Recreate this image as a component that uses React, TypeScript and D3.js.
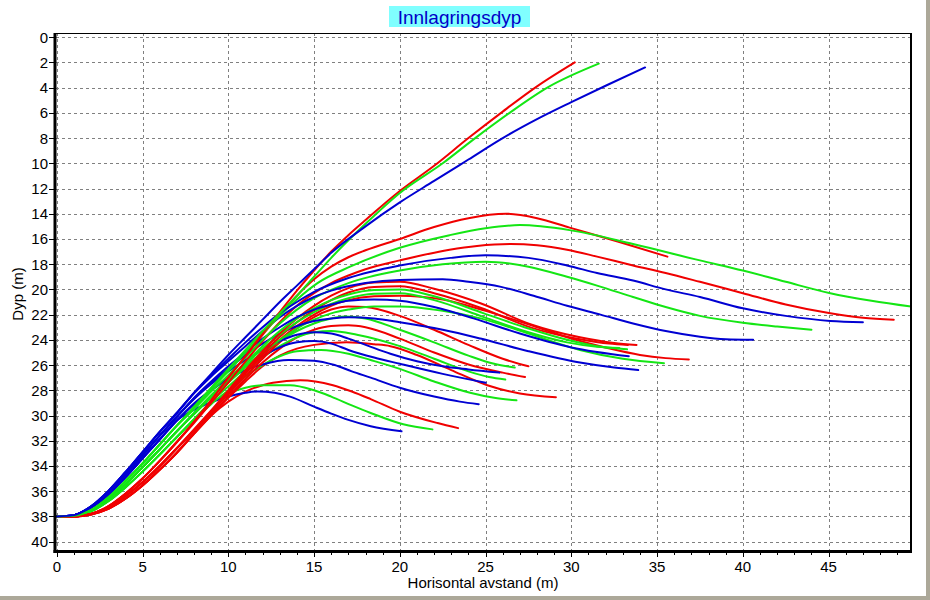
import React from "react";
import * as d3 from "d3";

// ---------- data ----------
const X_TICKS = [0, 5, 10, 15, 20, 25, 30, 35, 40, 45];
const X_MINOR = d3.range(0, 50, 1);
const Y_TICKS = [0, 2, 4, 6, 8, 10, 12, 14, 16, 18, 20, 22, 24, 26, 28, 30, 32, 34, 36, 38, 40];

type P = [number, number];

// shared rising starts (x, depth) per colour: left / middle / right variants
const blueRiseL: P[] = [[0, 38], [1, 37.9], [2, 37.2], [3, 36.0], [4, 34.5], [5, 32.9], [6, 31.3], [7, 29.8]];
const blueRiseM: P[] = [[0, 38], [1, 37.9], [2, 37.25], [3, 36.15], [4, 34.7], [5, 33.15], [6, 31.6], [7, 30.1]];
const blueRiseR: P[] = [[0, 38], [1, 37.9], [2, 37.3], [3, 36.3], [4, 34.9], [5, 33.4], [6, 31.9], [7, 30.4]];
const greenRiseL: P[] = [[0, 38], [1, 37.95], [2, 37.5], [3, 36.5], [4, 35.2], [5, 33.8], [6, 32.3], [7, 30.8]];
const greenRiseM: P[] = [[0, 38], [1, 37.95], [2, 37.55], [3, 36.65], [4, 35.45], [5, 34.1], [6, 32.7], [7, 31.25]];
const greenRiseR: P[] = [[0, 38], [1, 37.95], [2, 37.6], [3, 36.8], [4, 35.7], [5, 34.45], [6, 33.1], [7, 31.7]];
const redRiseL: P[] = [[0, 38], [1, 38], [2, 37.8], [3, 37.2], [4, 36.2], [5, 35.0], [6, 33.6], [7, 32.1]];
const redRiseM: P[] = [[0, 38], [1, 38], [2, 37.8], [3, 37.3], [4, 36.4], [5, 35.3], [6, 34.0], [7, 32.6]];
const redRiseR: P[] = [[0, 38], [1, 38], [2, 37.85], [3, 37.4], [4, 36.6], [5, 35.55], [6, 34.3], [7, 32.95]];

// blue trajectories
const blueA: P[] = [[8, 28.2], [9, 26.7], [10, 25.2], [11, 23.8], [12, 22.4], [13, 21.0], [14, 19.7], [15, 18.4], [16, 17.1], [18, 15.0], [20, 13.1], [22, 11.4], [24, 9.7], [26, 8.0], [28, 6.5], [30, 5.15], [32, 3.85], [34.3, 2.4]];
const blueB1: P[] = [[8, 28.2], [9, 26.8], [10, 25.5], [11, 24.2], [12, 23.0], [13, 21.9], [14, 21.0], [15, 20.2], [17, 19.1], [20, 18.1], [22.95, 17.5], [25, 17.3], [27.5, 17.5], [29.75, 18.1], [31.5, 18.7], [33.6, 19.3], [35.5, 20.0], [37.5, 20.6], [40, 21.5], [42.5, 22.1], [45.1, 22.5], [47, 22.6]];
const blueB2: P[] = [[8, 28.25], [9, 26.9], [10, 25.7], [11, 24.5], [12, 23.3], [13, 22.2], [14, 21.3], [15, 20.6], [16, 20.1], [18, 19.5], [20, 19.25], [22.5, 19.2], [24, 19.4], [25.9, 19.8], [27.8, 20.5], [29.75, 21.3], [31.7, 22.0], [33.6, 22.7], [35.5, 23.3], [37.5, 23.75], [39, 23.95], [40.6, 24.0]];
const blueC1: P[] = [[8, 28.6], [9, 27.3], [10, 26.1], [11, 25.0], [12, 23.9], [13, 23.0], [14, 22.2], [15, 21.6], [16, 21.2], [17, 20.9], [18.5, 20.8], [20, 20.9], [22, 21.4], [24.3, 22.3], [27, 23.5], [30, 24.6], [33.35, 25.3]];
const blueC2: P[] = [[8, 28.65], [9, 27.4], [10, 26.3], [11, 25.2], [12, 24.3], [13, 23.5], [14, 22.9], [15, 22.5], [16, 22.3], [17, 22.2], [18.5, 22.3], [20, 22.6], [22.5, 23.2], [24.7, 23.9], [27.5, 24.9], [30.5, 25.8], [32.5, 26.2], [33.9, 26.4]];
const blueD1: P[] = [[8, 28.7], [9, 27.5], [10, 26.5], [11, 25.6], [12, 24.8], [13, 24.1], [14, 23.6], [15, 23.4], [16, 23.5], [17, 23.9], [18.2, 24.5], [19.45, 25.1], [21, 25.7], [22.5, 26.1], [24, 26.35], [25.8, 26.6]];
const blueD2: P[] = [[8, 29.05], [9, 28.0], [10, 27.0], [11, 26.1], [12, 25.3], [13, 24.6], [14, 24.2], [15, 24.1], [16, 24.3], [17, 24.8], [18.5, 25.4], [20, 25.9], [22.5, 26.7], [25, 27.4]];
const blueE: P[] = [[8, 29.1], [9, 28.0], [10, 27.1], [11, 26.4], [12, 25.95], [13.5, 25.6], [15, 25.65], [16.2, 26.0], [17.2, 26.5], [18.3, 27.0], [20, 27.8], [22, 28.5], [23.5, 28.9], [24.6, 29.1]];
const blueF: P[] = [[8, 29.55], [9, 28.95], [10, 28.5], [11, 28.2], [11.7, 28.1], [12.7, 28.2], [13.6, 28.5], [15, 29.3], [16, 29.85], [17, 30.35], [18.3, 30.85], [20.1, 31.25]];

// green trajectories
const greenA: P[] = [[8, 29.3], [9, 27.8], [10, 26.3], [11, 24.8], [12, 23.3], [13, 21.9], [14, 20.5], [15, 19.0], [16, 17.5], [18, 14.8], [20, 12.35], [22.5, 10.0], [24.3, 8.1], [26.4, 6.0], [28.6, 4.0], [31.6, 2.1]];
const greenB1: P[] = [[8, 29.4], [9, 27.9], [10, 26.5], [11, 25.0], [12, 23.5], [13, 22.1], [14, 20.8], [15.2, 19.5], [17.1, 18.2], [20, 16.7], [22.9, 15.7], [25, 15.15], [27, 14.9], [29.9, 15.3], [33.6, 16.4], [37.5, 17.7], [40, 18.5], [42.5, 19.4], [45.1, 20.3], [47.5, 20.9], [50.3, 21.45]];
const greenB2: P[] = [[8, 29.5], [9, 28.1], [10, 26.8], [11, 25.4], [12, 24.0], [13, 22.7], [14, 21.6], [15, 20.7], [17, 19.5], [20, 18.5], [22.5, 18.0], [25, 17.8], [27.5, 18.2], [29.75, 19.0], [31.5, 19.7], [33.6, 20.6], [35.5, 21.4], [37.5, 22.1], [40, 22.65], [42, 22.95], [44, 23.2]];
const greenC1: P[] = [[8, 29.85], [9, 28.5], [10, 27.3], [11, 26.1], [12, 25.0], [13, 24.0], [14, 23.1], [15, 22.4], [16, 21.9], [17, 21.6], [18.5, 21.35], [20, 21.35], [22.5, 21.7], [24.7, 22.3], [27.5, 23.5], [30.5, 24.8], [33, 25.5], [35.4, 25.85]];
const greenC2: P[] = [[8, 29.8], [9, 28.4], [10, 27.1], [11, 25.8], [12, 24.5], [13, 23.3], [14, 22.3], [15, 21.5], [16, 20.85], [17, 20.4], [18.5, 20.05], [20, 20.0], [22, 20.55], [24.9, 21.9], [27.5, 23.1], [29.75, 24.0], [31.5, 24.5], [33.25, 24.75]];
const greenC3: P[] = [[8, 29.85], [9, 28.5], [10, 27.2], [11, 25.95], [12, 24.7], [13, 23.6], [14, 22.6], [15, 21.8], [16, 21.15], [17, 20.7], [18.5, 20.35], [20, 20.3], [22, 20.85], [24.9, 22.2], [27.5, 23.4], [29.75, 24.2], [31.5, 24.55], [32.8, 24.65]];
const greenD1: P[] = [[8, 29.9], [9, 28.6], [10, 27.4], [11, 26.2], [12, 25.1], [13, 24.1], [14, 23.3], [15, 22.7], [16, 22.3], [16.8, 22.15], [18, 22.3], [20, 23.2], [22, 24.2], [24, 25.25], [25.5, 25.9], [26.7, 26.2]];
const greenD2: P[] = [[8, 30.3], [9, 28.9], [10, 27.7], [11, 26.5], [12, 25.4], [13, 24.5], [14, 23.8], [15, 23.4], [16, 23.3], [17.5, 23.6], [20, 24.5], [22, 25.5], [24, 26.5], [25.2, 26.95], [26.15, 27.15]];
const greenE: P[] = [[8, 30.35], [9, 29.1], [10, 28.0], [11, 26.9], [12, 26.0], [13, 25.3], [14, 24.9], [15.4, 24.8], [17, 25.1], [18.3, 25.6], [20, 26.3], [22, 27.3], [24.1, 28.2], [25.5, 28.6], [26.8, 28.8]];
const greenF: P[] = [[8, 30.3], [9, 29.0], [10.1, 28.2], [11, 27.8], [12.05, 27.6], [13.6, 27.6], [15, 28.0], [16, 28.5], [17.2, 29.2], [18.3, 29.8], [20.2, 30.7], [21.9, 31.1]];

// red trajectories
const redA: P[] = [[8, 30.5], [9, 28.8], [10, 27.0], [11, 25.3], [12, 23.5], [13, 21.8], [14, 20.1], [15, 18.5], [16, 17.0], [17, 15.7], [18, 14.5], [20, 12.2], [22, 10.2], [24, 8.0], [26, 5.9], [28, 3.9], [30.2, 2.0]];
const redB1: P[] = [[8, 30.5], [9, 28.8], [10, 27.0], [11, 25.3], [12, 23.6], [13, 22.0], [14, 20.5], [15, 19.2], [16, 18.2], [17, 17.45], [18, 16.9], [20, 16.0], [22, 15.05], [24, 14.35], [26.2, 14.0], [28, 14.35], [29.9, 15.1], [32.7, 16.2], [35.6, 17.4]];
const redB2: P[] = [[8, 30.6], [9, 29.0], [10, 27.4], [11, 25.7], [12, 24.1], [13, 22.6], [14, 21.3], [15, 20.3], [16, 19.5], [17, 18.9], [18, 18.4], [20, 17.7], [22.9, 16.85], [24.5, 16.55], [26.45, 16.4], [28, 16.5], [29.75, 16.85], [31.5, 17.4], [33.6, 18.1], [35.5, 18.7], [37.5, 19.4], [40, 20.3], [42.5, 21.2], [45.1, 21.9], [47, 22.25], [48.8, 22.4]];
const redC1: P[] = [[8, 31.1], [9, 29.6], [10, 28.0], [11, 26.4], [12, 24.9], [13, 23.5], [14, 22.3], [15, 21.3], [16, 20.5], [17, 19.9], [18.5, 19.45], [20, 19.4], [22, 19.95], [24.7, 21.1], [27.7, 22.8], [30.5, 23.8], [32.5, 24.25], [33.8, 24.4]];
const redC2: P[] = [[8, 31.15], [9, 29.65], [10, 28.1], [11, 26.55], [12, 25.1], [13, 23.75], [14, 22.6], [15, 21.65], [16, 20.85], [17, 20.25], [18.5, 19.8], [20, 19.75], [22, 20.3], [24.7, 21.45], [27.7, 23.05], [30.5, 23.95], [32.2, 24.3], [33.3, 24.4]];
const redC3: P[] = [[8, 31.2], [9, 29.7], [10, 28.2], [11, 26.7], [12, 25.3], [13, 24.0], [14, 22.9], [15, 22.0], [16, 21.3], [17, 20.85], [18.5, 20.55], [20, 20.5], [22.5, 20.8], [25, 21.7], [27.8, 22.9], [30, 23.9], [32.1, 24.65], [34, 25.2], [35.5, 25.45], [36.85, 25.55]];
const redD1: P[] = [[8, 31.2], [9, 29.75], [10, 28.3], [11, 26.9], [12, 25.5], [13, 24.2], [14, 23.1], [15, 22.2], [16, 21.6], [17, 21.35], [18, 21.4], [20, 22.1], [22, 23.2], [24, 24.4], [26, 25.5], [27.5, 26.1]];
const redD2: P[] = [[8, 31.4], [9, 29.9], [10, 28.5], [11, 27.1], [12, 25.8], [13, 24.7], [14, 23.8], [15, 23.2], [16, 22.9], [17, 22.85], [18, 23.0], [20, 23.9], [22, 25.0], [24, 25.95], [26, 26.6], [27.3, 26.95]];
const redE: P[] = [[8, 31.45], [9, 30.0], [10, 28.6], [11, 27.3], [12, 26.1], [13, 25.25], [14, 24.7], [15, 24.4], [16.9, 24.2], [18.5, 24.35], [19.45, 24.5], [21, 25.2], [23, 26.4], [25.1, 27.6], [27, 28.25], [29.1, 28.55]];
const redF: P[] = [[8, 31.45], [9, 30.0], [10, 28.9], [11, 28.1], [12, 27.6], [12.6, 27.4], [14.2, 27.2], [16.1, 27.6], [17.2, 28.1], [18.3, 28.7], [20, 29.7], [22.2, 30.6], [23.4, 31.0]];

const RED = "#f00000";
const GREEN = "#14e614";
const BLUE = "#0000d2";

const SERIES: { color: string; rise: P[]; pts: P[] }[] = [
  { color: RED, rise: redRiseR, pts: redF },
  { color: GREEN, rise: greenRiseR, pts: greenF },
  { color: BLUE, rise: blueRiseR, pts: blueF },
  { color: RED, rise: redRiseR, pts: redE },
  { color: GREEN, rise: greenRiseR, pts: greenE },
  { color: BLUE, rise: blueRiseR, pts: blueE },
  { color: RED, rise: redRiseR, pts: redD2 },
  { color: GREEN, rise: greenRiseR, pts: greenD2 },
  { color: BLUE, rise: blueRiseR, pts: blueD2 },
  { color: RED, rise: redRiseM, pts: redD1 },
  { color: GREEN, rise: greenRiseM, pts: greenD1 },
  { color: BLUE, rise: blueRiseM, pts: blueD1 },
  { color: RED, rise: redRiseM, pts: redC3 },
  { color: GREEN, rise: greenRiseM, pts: greenC1 },
  { color: BLUE, rise: blueRiseM, pts: blueC2 },
  { color: RED, rise: redRiseM, pts: redC2 },
  { color: GREEN, rise: greenRiseM, pts: greenC3 },
  { color: RED, rise: redRiseM, pts: redC1 },
  { color: GREEN, rise: greenRiseM, pts: greenC2 },
  { color: BLUE, rise: blueRiseM, pts: blueC1 },
  { color: RED, rise: redRiseL, pts: redB2 },
  { color: GREEN, rise: greenRiseL, pts: greenB2 },
  { color: BLUE, rise: blueRiseL, pts: blueB2 },
  { color: RED, rise: redRiseL, pts: redB1 },
  { color: GREEN, rise: greenRiseL, pts: greenB1 },
  { color: BLUE, rise: blueRiseL, pts: blueB1 },
  { color: RED, rise: redRiseL, pts: redA },
  { color: GREEN, rise: greenRiseL, pts: greenA },
  { color: BLUE, rise: blueRiseL, pts: blueA },
];

// ---------- layout ----------
const W = 930;
const H = 600;
const PL = 56;
const PR = 911;
const PT = 33;
const PB = 551;

const x = d3.scaleLinear().domain([0, 45]).range([56.8, 828.6]);
const y = d3.scaleLinear().domain([0, 40]).range([37.2, 541.6]);

const line = d3
  .line<P>()
  .x((d) => x(d[0]))
  .y((d) => y(d[1]))
  .curve(d3.curveMonotoneX);

const FONT = "'Liberation Sans', Arial, sans-serif";

export default function App() {
  return (
    <svg
      width={W}
      height={H}
      style={{ position: "absolute", left: 0, top: 0, background: "#fff" }}
      fontFamily={FONT}
    >
      <defs>
        <clipPath id="plotclip">
          <rect x={PL} y={PT} width={PR - PL} height={PB - PT} />
        </clipPath>
      </defs>
      <rect x={0} y={0} width={W} height={H} fill="#ffffff" />
      {/* window frame */}
      <rect x={926} y={0} width={4} height={H} fill="#aca899" />
      <rect x={0} y={596} width={W} height={4} fill="#aca899" />

      {/* grid */}
      <g stroke="#808080" strokeWidth={1} strokeDasharray="3,3" shapeRendering="crispEdges">
        {X_TICKS.map((t) => (
          <line key={"gx" + t} x1={Math.round(x(t)) + 0.5} x2={Math.round(x(t)) + 0.5} y1={PT} y2={PB} />
        ))}
        {Y_TICKS.map((t) => (
          <line key={"gy" + t} x1={PL} x2={PR} y1={Math.round(y(t)) + 0.5} y2={Math.round(y(t)) + 0.5} />
        ))}
      </g>

      {/* curves */}
      <g clipPath="url(#plotclip)" fill="none" strokeWidth={2} strokeLinejoin="round" strokeLinecap="round">
        {SERIES.map((s, i) => (
          <path key={i} d={line([...s.rise, ...s.pts]) || ""} stroke={s.color} />
        ))}
      </g>

      {/* frame */}
      <line x1={PL} x2={PR} y1={PT + 0.5} y2={PT + 0.5} stroke="#000" strokeWidth={1} />
      <line x1={PR} x2={PR} y1={PT} y2={PB + 2} stroke="#000" strokeWidth={2} />
      <line x1={PL - 1} x2={PL - 1} y1={PT} y2={PB + 2} stroke="#000" strokeWidth={3} />
      <line x1={PL - 2.5} x2={PR + 1} y1={PB + 0.5} y2={PB + 0.5} stroke="#000" strokeWidth={3} />

      {/* x ticks */}
      <g stroke="#000" strokeWidth={1} shapeRendering="crispEdges">
        {X_MINOR.map((t) => (
          <line key={"mx" + t} x1={Math.round(x(t)) + 0.5} x2={Math.round(x(t)) + 0.5} y1={PB + 2} y2={PB + (t % 5 === 0 ? 6 : 4)} />
        ))}
        {Y_TICKS.map((t) => (
          <line key={"my" + t} x1={PL - 7} x2={PL - 2} y1={Math.round(y(t)) + 0.5} y2={Math.round(y(t)) + 0.5} />
        ))}
      </g>
      <g fontSize={15} fill="#000" textAnchor="middle">
        {X_TICKS.map((t) => (
          <text key={"lx" + t} x={x(t)} y={572}>
            {t}
          </text>
        ))}
      </g>
      <g fontSize={15} fill="#000" textAnchor="end">
        {Y_TICKS.map((t) => (
          <text key={"ly" + t} x={48} y={y(t) + 5.5}>
            {t}
          </text>
        ))}
      </g>

      {/* axis titles */}
      <text x={483} y={588} fontSize={15} textAnchor="middle" fill="#000">
        Horisontal avstand (m)
      </text>
      <text transform="translate(23,294) rotate(-90)" fontSize={15} textAnchor="middle" fill="#000">
        Dyp (m)
      </text>

      {/* title */}
      <rect x={389} y={6} width={141} height={21} fill="#80ffff" />
      <text x={459.5} y={24} fontSize={19} textAnchor="middle" fill="#0000c8">
        Innlagringsdyp
      </text>
    </svg>
  );
}
